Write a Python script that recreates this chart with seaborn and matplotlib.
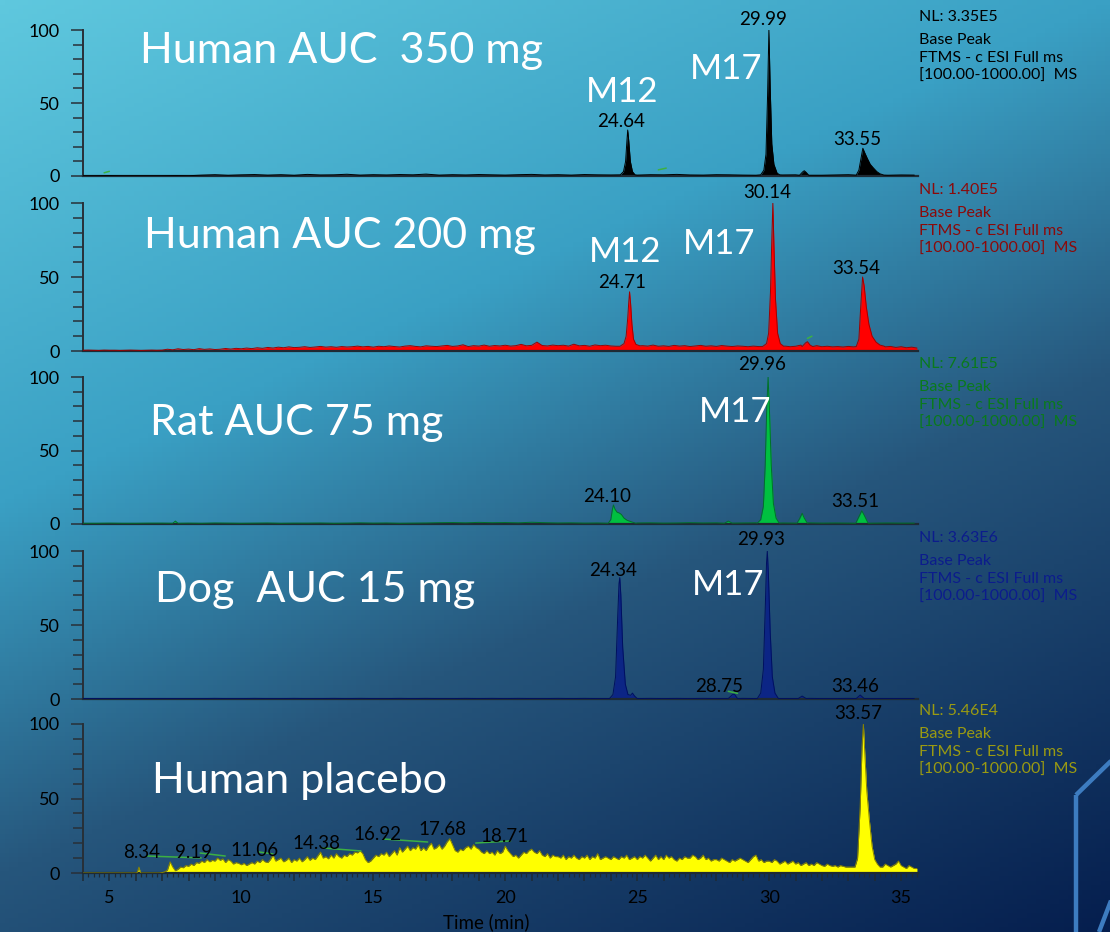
import numpy as np
import matplotlib
matplotlib.use("Agg")
import matplotlib.pyplot as plt
from matplotlib.lines import Line2D
from matplotlib.ticker import MultipleLocator, FuncFormatter
import seaborn as sns

# ---------------- data ----------------
panel_names = ["Human AUC  350 mg", "Human AUC 200 mg", "Rat AUC 75 mg",
               "Dog  AUC 15 mg", "Human placebo"]
nl_values = ["NL: 3.35E5", "NL: 1.40E5", "NL: 7.61E5", "NL: 3.63E6", "NL: 5.46E4"]
scan_lines = ["Base Peak", "FTMS - c ESI Full ms", "[100.00-1000.00]  MS"]
x_tick_labels = [5, 10, 15, 20, 25, 30, 35]

# baselines: start 4.0 min, fixed step, intensity values (% of base peak)
black_base = [0.2, 0.2, 0.3, 0.2, 0.2, 0.2, 0.2, 0.3, 0.2,
              0.6, 0.9, 0.5, 0.8, 1.0, 0.6, 0.9, 0.5, 1.1, 0.7,
              0.8, 1.2, 0.6, 0.9, 0.7, 1.0, 0.8, 1.3, 0.6, 0.9,
              0.7, 1.0, 0.8, 0.6, 0.9, 1.1, 0.7, 0.9, 0.6, 1.0,
              0.8, 0.7, 1.0, 0.6, 0.9, 0.8, 1.1, 0.7, 0.6, 0.9,
              0.8, 0.6, 0.5, 0.9, 0.7, 0.8, 0.6, 0.5, 0.7, 0.9,
              0.6, 0.8, 0.5, 0.7, 0.6]
red_base = [0.5, 0.6, 0.5, 0.4, 0.6, 0.5, 0.5, 0.4, 0.5, 0.6,
            0.5, 0.4, 0.5, 0.6, 0.5, 0.6, 1.2, 0.8, 1.5, 1.0,
            1.3, 0.9, 1.6, 1.1, 1.4, 1.0, 1.2, 1.7, 1.3, 1.8,
            1.5, 2.0, 1.6, 2.2, 1.8, 2.4, 2.0, 2.6, 2.2, 2.8,
            2.3, 2.5, 2.9, 2.4, 2.7, 3.1, 2.6, 2.9, 2.5, 3.0,
            2.7, 2.9, 3.3, 2.8, 3.1, 2.6, 3.2, 2.9, 3.4, 3.0,
            2.7, 3.3, 3.6, 3.1, 2.8, 3.5, 3.2, 3.0, 3.4, 3.8,
            3.1, 3.4, 4.2, 3.0, 3.6, 3.3, 4.0, 3.2, 3.7, 3.4,
            3.9, 3.3, 3.6, 4.5, 3.5, 3.8, 6.0, 3.7, 3.4, 4.0,
            3.6, 3.9, 3.3, 4.6, 3.5, 3.8, 3.2, 4.1, 3.6, 3.9,
            3.4, 3.2, 3.3, 3.4, 3.3, 3.1, 3.6, 3.3, 4.0, 3.2,
            3.5, 3.1, 3.8, 3.3, 3.6, 3.0, 3.4, 3.8, 3.2, 3.5,
            3.1, 3.7, 3.3, 3.0, 3.4, 3.2, 2.9, 3.3, 3.0, 3.2,
            3.0, 3.1, 3.0, 3.3, 2.9, 3.2, 4.0, 3.4, 3.1, 3.6,
            2.9, 3.2, 2.8, 3.0, 2.7, 3.1, 2.8, 3.0, 3.0, 3.0,
            3.0, 3.4, 2.8, 3.1, 2.4, 2.9, 2.2, 2.6, 2.0]
green_base = [0.5, 0.5, 0.6, 0.5, 0.5, 0.6, 0.6, 0.6,
              0.6, 0.5, 0.7, 0.6, 0.5, 0.6, 0.7, 0.5, 0.6, 0.6,
              0.7, 0.5, 0.6, 0.8, 0.6, 0.7, 0.5, 0.6, 0.7, 0.9,
              1.0, 0.8, 1.1, 0.9, 1.0, 0.8, 1.2, 0.9, 0.7, 0.8,
              0.6, 0.7, 0.8, 0.6, 0.7, 0.8, 0.6, 0.7, 0.9, 0.7,
              0.8, 0.6, 0.7, 0.8, 0.6, 0.7, 0.6, 0.8, 0.6, 0.7,
              0.6, 0.7, 0.6, 0.7, 0.6, 0.6]
navy_base = [0.3, 0.3, 0.3, 0.3, 0.3, 0.3, 0.3, 0.3, 0.3, 0.3,
             0.4, 0.3, 0.3, 0.4, 0.3, 0.3, 0.4, 0.3, 0.3, 0.4,
             0.3, 0.4, 0.3, 0.3, 0.4, 0.3, 0.4, 0.3, 0.3, 0.4,
             0.3, 0.4, 0.3, 0.4, 0.3, 0.3, 0.4, 0.3, 0.4, 0.3,
             0.4, 0.3, 0.3, 0.4, 0.3, 0.4, 0.3, 0.4, 0.3, 0.3,
             0.4, 0.3, 0.4, 0.3, 0.3, 0.4, 0.3, 0.3, 0.4, 0.3,
             0.3, 0.3, 0.3, 0.3]
# placebo: 0.1 min step, one row per minute from 7.0 on
yellow_base = [0] * 30 + [
    0.3, 0.8, 2, 7.5, 4, 1.5, 2.5, 4, 3.5, 5,
    4.5, 6, 5, 7, 6.5, 8, 7, 9, 7.5, 8.5,
    8, 10, 8.5, 9.5, 7, 9, 8, 6, 7, 6.5,
    5.5, 6.5, 5, 6, 7, 6, 8, 7, 9, 7.5,
    7, 9, 12, 8, 9, 10, 7.5, 8.5, 10, 7,
    9, 8, 10, 7.5, 9, 11, 8.5, 10, 9, 11.5,
    14, 10, 11, 9.5, 12, 10, 13, 11, 10, 12,
    11, 13, 12, 14, 13.5, 15, 13, 9, 7, 8,
    10, 12, 11, 13, 12, 14, 11, 13, 15, 12,
    17, 14, 16, 18, 15, 17, 16, 19, 15, 17,
    15, 18, 20, 16, 17, 19, 16, 18, 21, 23,
    19, 15, 14, 16, 15, 17, 18, 16, 19, 17,
    16, 14, 13, 15, 13, 14, 12, 15, 13, 14,
    18, 15, 13, 11, 12, 10, 12, 14, 13, 15,
    16, 14, 13, 15, 12, 11, 13, 10, 12, 11,
    11, 10, 12, 9, 11, 10, 12, 10, 9, 11,
    10, 12, 9, 11, 10, 13, 9, 10, 11, 10,
    9, 11, 10, 9, 11, 10, 12, 9, 10, 11,
    9, 11, 10, 12, 10, 8, 10, 12, 9, 11,
    9, 12, 10, 11, 9, 8, 10, 9, 11, 10,
    10, 12, 11, 9, 10, 12, 9, 10, 8, 9,
    9, 8, 10, 9, 8, 7, 9, 8, 9, 10,
    9, 8, 7, 9, 11, 12, 8, 9, 7, 8,
    8, 7, 9, 8, 6, 7, 8, 6, 7, 8,
    6, 7, 5, 6, 7, 5, 6, 5, 7, 6,
    5, 4.5, 6, 5, 4.5, 5, 4, 5, 4.5, 4,
    4, 4, 4, 4, 4, 4, 4, 4, 4, 4,
    4, 4, 5, 4, 6, 5, 4, 5, 6, 8,
    5, 4, 3, 5, 4, 3, 3]

# peaks: (times, intensities)
black_peaks = [
    ([24.36, 24.48, 24.56, 24.61, 24.64, 24.68, 24.74, 24.82, 24.92],
     [0.8, 3, 10, 24, 31.5, 24, 10, 3, 0.8]),
    ([29.68, 29.8, 29.88, 29.94, 29.99, 30.04, 30.1, 30.18, 30.3, 30.4],
     [0.8, 4, 15, 55, 100, 60, 22, 8, 2, 0.8]),
    ([31.15, 31.27, 31.33, 31.4, 31.5], [0.5, 2.8, 3.6, 2.5, 0.5]),
    ([33.3, 33.4, 33.48, 33.55, 33.62, 33.72, 33.83, 33.95, 34.08, 34.2, 34.35],
     [0.6, 4, 12, 19, 16, 12, 8, 5.5, 3, 1.5, 0.6]),
]
red_peaks = [
    ([24.35, 24.5, 24.58, 24.64, 24.68, 24.71, 24.75, 24.8, 24.86, 24.95, 25.1],
     [3.2, 5, 10, 22, 33, 40, 32, 18, 8, 4.5, 3.5]),
    ([29.75, 29.9, 29.98, 30.05, 30.1, 30.14, 30.18, 30.24, 30.32, 30.42, 30.55],
     [3, 5, 12, 40, 75, 100, 72, 35, 12, 5, 3.2]),
    ([31.25, 31.38, 31.45, 31.55, 31.65], [3, 5.5, 6.3, 4, 3]),
    ([33.3, 33.4, 33.47, 33.54, 33.6, 33.68, 33.78, 33.9, 34.05, 34.2, 34.35],
     [3, 8, 30, 50, 44, 30, 18, 10, 6, 4, 3.3]),
]
green_peaks = [
    ([7.4, 7.5, 7.6], [0.5, 2, 0.5]),
    ([23.9, 24.0, 24.06, 24.1, 24.16, 24.24, 24.32, 24.4, 24.5, 24.62, 24.78, 24.95],
     [0.5, 3, 10, 13, 10, 8, 7.5, 6.5, 4, 2.5, 1.5, 0.5]),
    ([28.3, 28.45, 28.6], [0.5, 2, 0.6]),
    ([29.55, 29.68, 29.78, 29.85, 29.91, 29.96, 30.01, 30.08, 30.16, 30.26, 30.38],
     [0.6, 3, 12, 40, 80, 100, 78, 40, 14, 4, 0.6]),
    ([31.05, 31.15, 31.25, 31.33, 31.45], [0.5, 3.5, 7.3, 4, 0.5]),
    ([33.28, 33.4, 33.51, 33.6, 33.75], [0.5, 5, 9, 6, 0.5]),
]
navy_peaks = [
    ([23.95, 24.08, 24.18, 24.26, 24.31, 24.34, 24.38, 24.45, 24.55, 24.65, 24.75, 24.82, 24.9, 25.0],
     [0.3, 3, 15, 55, 78, 82, 70, 35, 10, 3, 2.5, 4, 2, 0.3]),
    ([28.45, 28.6, 28.68, 28.8], [0.3, 2.8, 3.4, 0.3]),
    ([29.55, 29.68, 29.78, 29.85, 29.9, 29.93, 29.97, 30.04, 30.12, 30.22, 30.35],
     [0.3, 4, 20, 60, 92, 100, 85, 45, 15, 4, 0.3]),
    ([31.1, 31.25, 31.4], [0.3, 2, 0.3]),
    ([33.3, 33.45, 33.6], [0.3, 2.7, 0.3]),
]
yellow_peaks = [
    ([6.05, 6.12, 6.18], [0.1, 4, 0.1]),
    ([33.25, 33.35, 33.45, 33.52, 33.57, 33.62, 33.7, 33.8, 33.9, 34.0, 34.1, 34.2],
     [4, 10, 45, 85, 100, 82, 55, 35, 18, 9, 6, 4]),
]

# peak labels: (text, time, intensity of label baseline)
black_labels = [("24.64", 24.39, 33.6), ("29.99", 29.77, 103.4), ("33.55", 33.33, 21.2)]
red_labels = [("24.71", 24.43, 42.6), ("30.14", 29.92, 103.4), ("33.54", 33.3, 52)]
green_labels = [("24.10", 23.86, 15), ("29.96", 29.73, 104.8), ("33.51", 33.26, 11.6)]
navy_labels = [("24.34", 24.09, 83), ("28.75", 28.1, 4.7), ("29.93", 29.7, 104), ("33.46", 33.26, 4.7)]
yellow_labels = [("8.34", 6.21, 10.1), ("9.19", 8.18, 10.1), ("11.06", 10.48, 11.4),
                 ("14.38", 12.83, 16.1), ("16.92", 15.17, 22.1), ("17.68", 17.63, 25.5),
                 ("18.71", 19.97, 20.8), ("33.57", 33.37, 103.4)]

# green leader ticks of the data system: (t0, t1, y0, y1)
black_leaders = [(4.8, 5.0, 2.2, 3.2), (25.8, 26.1, 4.2, 5.4)]
red_leaders = [(31.45, 31.62, 8.5, 10)]
green_leaders = []
navy_leaders = [(28.45, 28.8, 5.2, 3.8)]
yellow_leaders = [(6.44, 8.48, 11.4, 10.1), (8.44, 9.39, 13.4, 11.4), (10.67, 11.2, 14.1, 12.8),
                  (13.09, 14.53, 16.8, 14.8), (15.4, 17.06, 22.8, 20.8), (18.88, 20.2, 20.1, 21.5)]

# white annotations: (text, x px, baseline y px)
m_labels = [
    [("M12", 586, 102), ("M17", 690, 79)],
    [("M12", 589, 262), ("M17", 683, 254)],
    [("M17", 699, 422)],
    [("M17", 692, 595)],
    [],
]
name_pos = [(140, 63), (144, 248), (150, 435), (155, 602), (152, 793)]

fills = ["#000000", "#ff0000", "#00c040", "#0c2585", "#ffff00"]
edges = ["#000000", "#a00000", "#00702a", "#001060", "#8a8400"]
info_colors = ["#000000", "#8b0a0a", "#0a7a1c", "#0c1c8c", "#9a9a12"]
steps = [0.5, 0.2, 0.5, 0.5, 0.1]

tops_px = [30, 203, 377, 551, 724]
zeros_px = [176, 351, 524, 699, 873]

W, H = 1110, 932


def build_trace(base_vals, step, peaks, start=4.0):
    t = start + step * np.arange(len(base_vals))
    y = np.asarray(base_vals, dtype=float)
    keep = np.ones(len(t), dtype=bool)
    pt, py = [], []
    for ts, ys in peaks:
        keep &= ~((t >= ts[0]) & (t <= ts[-1]))
        pt += list(ts)
        py += list(ys)
    tt = np.concatenate([t[keep], pt])
    yy = np.concatenate([y[keep], py])
    order = np.argsort(tt)
    return tt[order], yy[order]


bases = [black_base, red_base, green_base, navy_base, yellow_base]
peak_sets = [black_peaks, red_peaks, green_peaks, navy_peaks, yellow_peaks]
traces = [build_trace(b, s, p) for b, s, p in zip(bases, steps, peak_sets)]
labels = [black_labels, red_labels, green_labels, navy_labels, yellow_labels]
leaders = [black_leaders, red_leaders, green_leaders, navy_leaders, yellow_leaders]

# ---------------- figure ----------------
sns.set_theme(style="ticks")
plt.rcParams["font.family"] = ["Lato", "DejaVu Sans"]

fig = plt.figure(figsize=(W / 100, H / 100), dpi=100)

# slide background gradient
gx, gy = np.meshgrid(np.linspace(0, 1, 240), np.linspace(0, 1, 200))
s = 0.35 * gx + 0.65 * gy
stops = np.array([0.0, 0.35, 0.61, 1.0])
cols = np.array([[95, 200, 222], [58, 160, 196], [38, 86, 124], [5, 30, 78]]) / 255
img = np.dstack([np.interp(s, stops, cols[:, k]) for k in range(3)])
bg = fig.add_axes([0, 0, 1, 1], zorder=-10)
bg.imshow(img, aspect="auto", extent=[0, 1, 1, 0], origin="upper")
bg.set_xlim(0, 1)
bg.set_ylim(1, 0)
bg.axis("off")

# decorative outline bottom right
for xs, ys in [([1076, 1076], [795, 932]), ([1076, 1112], [795, 760]), ([1099, 1112], [932, 898])]:
    fig.add_artist(Line2D([x / W for x in xs], [1 - y / H for y in ys],
                          color="#3d7cc0", lw=3.2, solid_capstyle="butt"))

left = 83 / W
width = (918 - 83) / W
for i in range(5):
    ax = fig.add_axes([left, 1 - zeros_px[i] / H, width, (zeros_px[i] - tops_px[i]) / H])
    ax.patch.set_alpha(0)
    t, y = traces[i]
    ax.fill_between(t, 0, y, color=fills[i], lw=0, zorder=2)
    sns.lineplot(x=t, y=y, ax=ax, color=edges[i], lw=0.7, zorder=3, sort=False)
    for t0, t1, y0, y1 in leaders[i]:
        ax.plot([t0, t1], [y0, y1], color="#3cb043", lw=1.1, zorder=4)
    for txt, lt, ly in labels[i]:
        ax.text(lt, ly, txt, ha="center", va="baseline", fontsize=13.5,
                color="black", clip_on=False, zorder=5)

    ax.set_xlim(4.0, 35.64)
    ax.set_ylim(0, 100)
    ax.set_xlabel("")
    ax.set_ylabel("")
    sns.despine(ax=ax, top=True, right=True)
    ax.spines["left"].set_color("#283038")
    ax.spines["left"].set_linewidth(1.4)
    ax.spines["bottom"].set_color("#1e2a34")
    ax.spines["bottom"].set_linewidth(1.6)
    ax.set_yticks([0, 50, 100])
    ax.yaxis.set_minor_locator(MultipleLocator(10))
    ax.tick_params(axis="y", which="major", length=9, width=1.1, color="#283038",
                   labelsize=13, labelcolor="black", pad=8)
    ax.tick_params(axis="y", which="minor", length=7, width=1.1, color="#283038")
    if i < 4:
        ax.tick_params(axis="x", which="both", bottom=False, labelbottom=False)
    else:
        ax.xaxis.set_major_locator(MultipleLocator(1))
        ax.xaxis.set_minor_locator(MultipleLocator(0.2))
        ax.xaxis.set_major_formatter(FuncFormatter(
            lambda v, p: f"{int(round(v))}" if int(round(v)) in x_tick_labels else ""))
        ax.tick_params(axis="x", which="major", length=6, width=1.1, color="#1e2a34",
                       labelsize=13, labelcolor="black", pad=6)
        ax.tick_params(axis="x", which="minor", length=3, width=0.9, color="#1e2a34")

    # sample name and metabolite tags
    nx, ny = name_pos[i]
    fig.text(nx / W, 1 - ny / H, panel_names[i], color="white", fontsize=31,
             ha="left", va="baseline")
    for txt, mx, my in m_labels[i]:
        fig.text(mx / W, 1 - my / H, txt, color="white", fontsize=25,
                 ha="left", va="baseline")

    # instrument info block
    top = tops_px[i]
    fig.text(919 / W, 1 - (top - 13) / H, nl_values[i], color=info_colors[i],
             fontsize=11.5, ha="left", va="center")
    for k, line in enumerate(scan_lines):
        fig.text(919 / W, 1 - (top + 10 + 18 * k) / H, line, color=info_colors[i],
                 fontsize=11.5, ha="left", va="center")

fig.text(486 / W, 1 - 922 / H, "Time (min)", color="black", fontsize=13.5,
         ha="center", va="center")

fig.savefig("out.png", dpi=100)
